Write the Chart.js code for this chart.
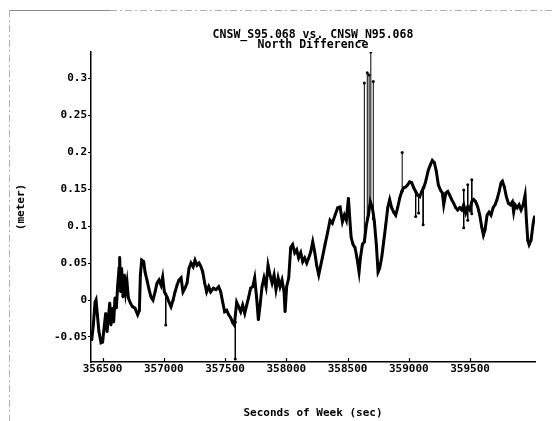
<!DOCTYPE html>
<html>
<head>
<meta charset="utf-8">
<script src="https://cdn.jsdelivr.net/npm/chart.js@4.4.1/dist/chart.umd.min.js"></script>
<style>
  html, body { margin: 0; padding: 0; background: #fff; }
  canvas { display: block; }
</style>
</head>
<body>
<canvas id="c" width="553" height="421"></canvas>
<script>
// Seconds of week for each sample of the north difference trace
const seconds = [
  356412, 356425, 356439, 356447, 356458, 356471, 356488, 356501, 356515, 356526,
  356537, 356548, 356559, 356569, 356580, 356591, 356602, 356613, 356624, 356635,
  356640, 356648, 356656, 356667, 356678, 356689, 356700, 356711, 356727, 356744,
  356765, 356787, 356801, 356809, 356820, 356836, 356847, 356863, 356880, 356896,
  356912, 356929, 356945, 356961, 356978, 356991, 357005, 357027, 357043, 357059,
  357076, 357092, 357108, 357124, 357141, 357157, 357173, 357190, 357206, 357222,
  357239, 357255, 357271, 357288, 357304, 357318, 357334, 357350, 357367, 357383,
  357405, 357426, 357448, 357465, 357481, 357497, 357514, 357530, 357546, 357563,
  357576, 357595, 357611, 357628, 357644, 357661, 357677, 357693, 357709, 357726,
  357742, 357758, 357772, 357786, 357802, 357818, 357835, 357851, 357867, 357884,
  357900, 357916, 357933, 357949, 357965, 357982, 357990, 358003, 358020, 358036,
  358052, 358069, 358085, 358101, 358118, 358134, 358150, 358167, 358183, 358199,
  358216, 358232, 358248, 358265, 358294, 358316, 358338, 358357, 358376, 358398,
  358420, 358439, 358458, 358474, 358490, 358507, 358518, 358529, 358545, 358561,
  358577, 358594, 358605, 358621, 358637, 358654, 358670, 358686, 358703, 358719,
  358735, 358749, 358762, 358779, 358795, 358812, 358828, 358844, 358860, 358877,
  358893, 358909, 358926, 358942, 358958, 358975, 358991, 359007, 359024, 359040,
  359056, 359072, 359089, 359105, 359121, 359137, 359159, 359176, 359192, 359209,
  359225, 359241, 359258, 359274, 359285, 359302, 359318, 359334, 359350, 359367,
  359383, 359399, 359416, 359432, 359448, 359465, 359481, 359497, 359514, 359530,
  359546, 359563, 359579, 359595, 359609, 359622, 359639, 359655, 359671, 359688,
  359704, 359720, 359737, 359753, 359764, 359780, 359796, 359813, 359829, 359845,
  359856, 359867, 359884, 359900, 359916, 359933, 359949, 359960, 359971, 359982,
  359998, 360015, 360026
];

// North difference (meter) at each of the seconds above
const northDiff = [
  -0.054, -0.034, -0.003, 0.000, -0.020, -0.043, -0.058, -0.057, -0.034, -0.018,
  -0.043, -0.024, -0.004, -0.034, -0.011, -0.030, 0.003, -0.011, 0.020, 0.043,
  0.058, 0.011, 0.043, 0.004, 0.034, 0.011, 0.024, 0.003, -0.004, -0.009,
  -0.011, -0.020, -0.014, 0.034, 0.054, 0.052, 0.038, 0.027, 0.014, 0.004,
  0.000, 0.011, 0.023, 0.027, 0.020, 0.031, 0.011, 0.004, -0.003, -0.009,
  0.000, 0.011, 0.020, 0.027, 0.030, 0.011, 0.016, 0.023, 0.043, 0.050,
  0.045, 0.054, 0.047, 0.050, 0.045, 0.038, 0.023, 0.011, 0.018, 0.011,
  0.016, 0.014, 0.018, 0.011, -0.003, -0.016, -0.014, -0.020, -0.024, -0.031,
  -0.034, -0.003, -0.009, -0.016, -0.007, -0.018, -0.007, 0.004, 0.016, 0.018,
  0.030, 0.003, -0.027, -0.007, 0.018, 0.030, 0.018, 0.047, 0.034, 0.023,
  0.034, 0.014, 0.030, 0.018, 0.027, 0.011, -0.016, 0.018, 0.030, 0.071,
  0.075, 0.064, 0.068, 0.057, 0.064, 0.052, 0.057, 0.050, 0.057, 0.065,
  0.079, 0.065, 0.047, 0.034, 0.057, 0.075, 0.092, 0.108, 0.104, 0.115,
  0.125, 0.126, 0.106, 0.115, 0.108, 0.138, 0.111, 0.085, 0.075, 0.071,
  0.057, 0.038, 0.057, 0.075, 0.079, 0.102, 0.115, 0.133, 0.125, 0.106,
  0.075, 0.038, 0.043, 0.058, 0.079, 0.102, 0.125, 0.136, 0.125, 0.119,
  0.115, 0.125, 0.138, 0.147, 0.152, 0.153, 0.156, 0.160, 0.159, 0.152,
  0.147, 0.142, 0.140, 0.147, 0.152, 0.160, 0.176, 0.183, 0.189, 0.186,
  0.174, 0.156, 0.149, 0.145, 0.129, 0.145, 0.147, 0.142, 0.136, 0.131,
  0.125, 0.122, 0.125, 0.122, 0.129, 0.118, 0.126, 0.122, 0.133, 0.136,
  0.133, 0.126, 0.115, 0.099, 0.088, 0.095, 0.115, 0.119, 0.115, 0.125,
  0.129, 0.136, 0.147, 0.159, 0.161, 0.153, 0.140, 0.131, 0.129, 0.133,
  0.119, 0.129, 0.125, 0.129, 0.122, 0.129, 0.142, 0.108, 0.081, 0.075,
  0.081, 0.104, 0.113
];

// Isolated outlier epochs: where each jump leaves the trace and where it lands
const spikeSeconds = [357016, 357584, 358637, 358661, 358676, 358690, 358710, 358946, 359056, 359080, 359117, 359448, 359481, 359514];
const spikeBase    = [0.008, -0.030, 0.080, 0.110, 0.125, 0.130, 0.110, 0.147, 0.147, 0.142, 0.152, 0.149, 0.156, 0.163];
const spikePeak    = [-0.034, -0.080, 0.294, 0.308, 0.305, 0.336, 0.296, 0.200, 0.113, 0.118, 0.102, 0.098, 0.108, 0.117];

// Axis ticks
const xTicks = [356500, 357000, 357500, 358000, 358500, 359000, 359500];
const yTicks = [-0.05, 0, 0.05, 0.1, 0.15, 0.2, 0.25, 0.3];

const FONT = '"DejaVu Sans Mono", "Liberation Mono", monospace';
const tickFont = { family: FONT, size: 11, weight: 'bold' };

const tracePoints = seconds.map((s, i) => ({ x: s, y: northDiff[i] }));
const spikePoints = [];
spikeSeconds.forEach((s, i) => {
  spikePoints.push({ x: s, y: spikeBase[i] }, { x: s, y: spikePeak[i] }, { x: s, y: null });
});

// Faint sheet border along the top and left margin
const sheetBorder = {
  id: 'sheetBorder',
  beforeDraw(chart) {
    const c = chart.ctx;
    c.save();
    c.strokeStyle = '#8a8a8a';
    c.lineWidth = 1;
    c.beginPath();
    c.moveTo(10, 10.5); c.lineTo(110, 10.5);
    c.stroke();
    c.setLineDash([7, 3, 2, 3]);
    c.strokeStyle = '#b0b0b0';
    c.beginPath();
    c.moveTo(110, 10.5); c.lineTo(553, 10.5);
    c.moveTo(9.5, 10); c.lineTo(9.5, 421);
    c.stroke();
    c.restore();
  }
};

// Short tick marks that point up from the time axis into the plot
const innerTicks = {
  id: 'innerTicks',
  afterDraw(chart) {
    const x = chart.scales.x;
    const c = chart.ctx;
    const b = chart.chartArea.bottom;
    c.save();
    c.strokeStyle = '#000';
    c.lineWidth = 1.2;
    c.beginPath();
    xTicks.forEach(v => {
      const px = Math.round(x.getPixelForValue(v)) + 0.5;
      c.moveTo(px, b - 4); c.lineTo(px, b);
    });
    c.stroke();
    c.restore();
  }
};

new Chart(document.getElementById('c'), {
  type: 'line',
  data: {
    datasets: [
      {
        label: 'North Difference',
        data: tracePoints,
        borderColor: '#000',
        borderWidth: 3,
        pointRadius: 1.6,
        pointStyle: 'rect',
        pointBackgroundColor: '#000',
        pointBorderWidth: 0,
        tension: 0
      },
      {
        label: 'Outliers',
        data: spikePoints,
        borderColor: '#000',
        borderWidth: 1,
        pointRadius: 1.5,
        pointBackgroundColor: '#000',
        pointBorderWidth: 0,
        spanGaps: false,
        tension: 0
      }
    ]
  },
  options: {
    responsive: false,
    animation: false,
    events: [],
    layout: { padding: { left: 0, right: 18, top: 0, bottom: 0 } },
    plugins: {
      legend: { display: false },
      tooltip: { enabled: false },
      title: {
        display: true,
        fullSize: false,
        text: ['CNSW_S95.068 vs. CNSW_N95.068', 'North Difference'],
        color: '#000',
        font: { family: FONT, size: 11.5, weight: 'bold', lineHeight: '10px' },
        padding: { top: 30.5, bottom: 1.5 }
      }
    },
    scales: {
      x: {
        type: 'linear',
        min: 356406,
        max: 360030,
        afterBuildTicks: a => { a.ticks = xTicks.map(v => ({ value: v })); },
        afterFit: s => { s.height = 59; },
        grid: { display: true, drawOnChartArea: false, drawTicks: false },
        border: { display: true, color: '#000', width: 1.5 },
        ticks: {
          color: '#000', font: tickFont, padding: 1,
          autoSkip: false, maxRotation: 0,
          callback: v => String(v)
        },
        title: {
          display: true, text: 'Seconds of Week (sec)', color: '#000',
          font: tickFont, padding: { top: 0, bottom: 1 }
        }
      },
      y: {
        type: 'linear',
        min: -0.084,
        max: 0.336,
        afterBuildTicks: a => { a.ticks = yTicks.map(v => ({ value: v })); },
        afterFit: s => { s.width = 91; },
        grid: { display: true, drawOnChartArea: false, drawTicks: true, tickLength: 3, color: '#000' },
        border: { display: true, color: '#000', width: 1.5 },
        ticks: {
          color: '#000', font: tickFont, padding: 1,
          callback: v => String(Math.round(v * 100) / 100)
        },
        title: {
          display: true, text: '(meter)', color: '#000',
          font: tickFont, padding: { top: 14.5, bottom: 0 }
        }
      }
    }
  },
  plugins: [sheetBorder, innerTicks]
});
</script>
</body>
</html>
